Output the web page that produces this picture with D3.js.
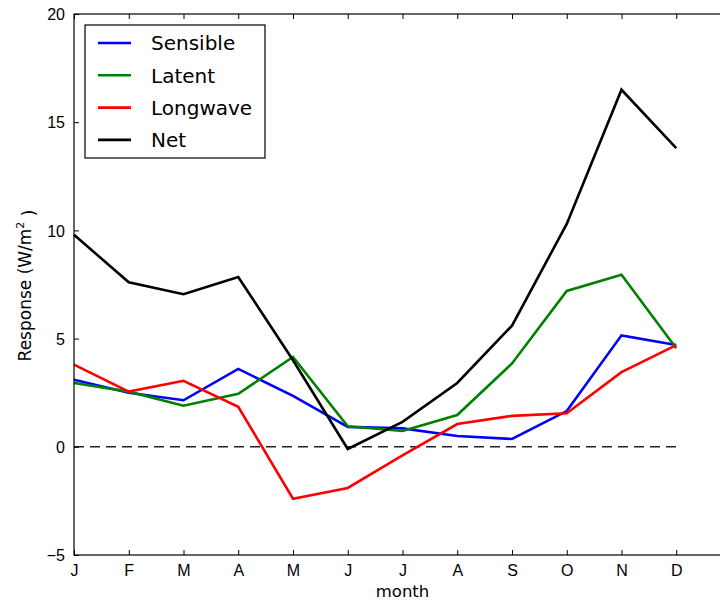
<!DOCTYPE html>
<html>
<head>
<meta charset="utf-8">
<script src="https://cdn.jsdelivr.net/npm/d3@7"></script>
<style>
  body { margin: 0; background: #fff; }
  svg { display: block; font-family: "DejaVu Sans", sans-serif; }
</style>
</head>
<body>
<div class="container"></div>
<script>
const w = 720
const h = 602
const margin = {top: 14, left: 74, bottom: 47}

const months = ["J", "F", "M", "A", "M", "J", "J", "A", "S", "O", "N", "D"]
const sensible = [3.1, 2.5, 2.15, 3.6, 2.35, 0.92, 0.85, 0.5, 0.36, 1.65, 5.15, 4.7]
const latent = [2.95, 2.55, 1.9, 2.45, 4.15, 0.95, 0.73, 1.47, 3.85, 7.2, 7.95, 4.55]
const longwave = [3.8, 2.55, 3.05, 1.85, -2.4, -1.9, -0.4, 1.05, 1.43, 1.55, 3.45, 4.7]
const net = [9.8, 7.6, 7.05, 7.85, 4.0, -0.1, 1.15, 2.95, 5.6, 10.3, 16.5, 13.8]
const yTicks = [-5, 0, 5, 10, 15, 20]

const series = [
  {name: "Sensible", values: sensible, color: "#0000ff"},
  {name: "Latent", values: latent, color: "#008000"},
  {name: "Longwave", values: longwave, color: "#ff0000"},
  {name: "Net", values: net, color: "#000000"}
]

const svg = d3.select(".container")
              .append("svg")
              .attr("width", w)
              .attr("height", h)

// the plot runs past the right edge of the window, like the original
const xScale = d3.scaleLinear()
                 .domain([0, 12])
                 .range([margin.left, 731])
const yScale = d3.scaleLinear()
                 .domain([-5, 20])
                 .range([h - margin.bottom, margin.top])

const x0 = xScale(0), x1 = xScale(12)
const yb = yScale(-5), yt = yScale(20)

// zero line
svg.append("line")
   .attr("x1", xScale(0)).attr("x2", xScale(11))
   .attr("y1", yScale(0)).attr("y2", yScale(0))
   .attr("stroke", "#222")
   .attr("stroke-width", 1.5)
   .attr("stroke-dasharray", "10,6")

const line = d3.line()
               .x((d, i) => xScale(i))
               .y(d => yScale(d))

svg.selectAll(".series")
   .data(series)
   .enter()
   .append("path")
     .attr("class", "series")
     .attr("d", d => line(d.values))
     .attr("fill", "none")
     .attr("stroke", d => d.color)
     .attr("stroke-width", 2.6)
     .attr("stroke-linejoin", "miter")

// axes: inward ticks on all four sides
const xAxis = d3.axisBottom(xScale)
                .tickValues(d3.range(12))
                .tickFormat(i => months[i])
                .tickSizeInner(-5)
                .tickSizeOuter(0)
                .tickPadding(10)
const yAxis = d3.axisLeft(yScale)
                .tickValues(yTicks)
                .tickFormat(d => d < 0 ? "\u2212" + Math.abs(d) : d)
                .tickSizeInner(-5)
                .tickSizeOuter(0)
                .tickPadding(9)

const gx = svg.append("g")
   .attr("transform", `translate(0, ${yb})`)
   .call(xAxis)
gx.selectAll("text").style("font-size", "16px").attr("fill", "#000")

const gy = svg.append("g")
   .attr("transform", `translate(${x0}, 0)`)
   .call(yAxis)
gy.selectAll("text").style("font-size", "16px").attr("fill", "#000").attr("dy", "0.35em")

svg.append("g")
   .attr("transform", `translate(0, ${yt})`)
   .call(d3.axisTop(xScale).tickValues(d3.range(12)).tickFormat("").tickSizeInner(-5).tickSizeOuter(0))

svg.selectAll(".domain").remove()
svg.selectAll(".tick line").attr("stroke", "#000")

svg.append("rect")
   .attr("x", x0).attr("y", yt)
   .attr("width", x1 - x0).attr("height", yb - yt)
   .attr("fill", "none")
   .attr("stroke", "#000")
   .attr("stroke-width", 1.2)

// axis labels
svg.append("text")
   .attr("x", xScale(6)).attr("y", 597)
   .attr("text-anchor", "middle")
   .style("font-size", "16.5px")
   .text("month")

const ylab = svg.append("text")
   .attr("transform", `translate(31, ${(yt + yb) / 2 + 1}) rotate(-90)`)
   .attr("text-anchor", "middle")
   .style("font-size", "17px")
ylab.append("tspan").text("Response (W/m")
ylab.append("tspan").attr("dy", "-0.6em").style("font-size", "11px").text("2")
ylab.append("tspan").attr("dy", "0.6em").text(" )")

// legend
const legend = svg.append("g")
                  .attr("transform", "translate(85, 25)")

legend.append("rect")
      .attr("width", 180).attr("height", 133)
      .attr("fill", "#fff")
      .attr("stroke", "#000")
      .attr("stroke-width", 1.2)

const rows = legend.selectAll(".row")
                   .data(series)
                   .enter()
                   .append("g")
                     .attr("transform", (d, i) => `translate(0, ${18 + i * 32.3})`)

rows.append("line")
    .attr("x1", 13).attr("x2", 46)
    .attr("stroke", d => d.color)
    .attr("stroke-width", 2.6)

rows.append("text")
    .attr("x", 66).attr("dy", "0.36em")
    .style("font-size", "20px")
    .text(d => d.name)
</script>
</body>
</html>
